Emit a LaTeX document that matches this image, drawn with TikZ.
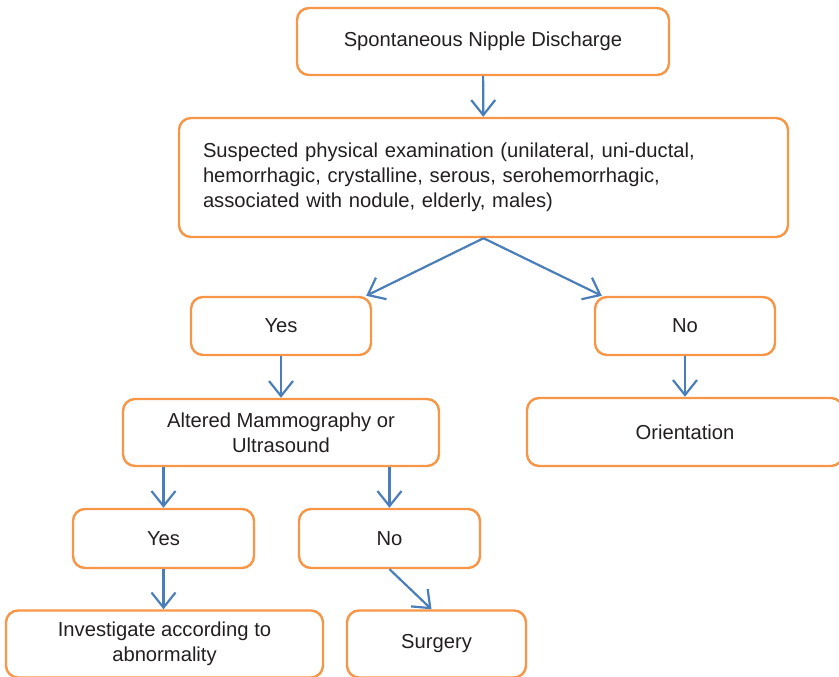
\documentclass[tikz,border=0pt]{standalone}
\usepackage{fontspec}
\setmainfont{Liberation Sans}
\usepackage{tikz}
\usetikzlibrary{arrows.meta,shapes,positioning}
\usepackage{xcolor}
\definecolor{ndorange}{RGB}{247,150,70}
\definecolor{ndblue}{RGB}{74,126,187}
\definecolor{ndtext}{RGB}{35,31,32}
\tikzstyle{stepbox} = [rectangle, rounded corners=12pt, minimum height=58pt, text centered, draw=ndorange, line width=2.4pt, text=ndtext, font=\fontsize{20.2}{25}\selectfont, inner sep=4pt]
\tikzstyle{arrow} = [line width=2.2pt,-{Straight Barb[length=15pt,width=24pt]},color=ndblue]

\begin{document}
\begin{tikzpicture}[x=1pt, y=1pt]
\useasboundingbox (0,0) rectangle (839,-677);

% Start and examination
\node[stepbox, minimum width=372pt, minimum height=67pt] (start) at (483,-41.5) {Spontaneous Nipple Discharge};
\node[stepbox, minimum width=609pt, minimum height=119pt, text width=561pt, align=left] (exam) at (483.5,-177.5) {Suspected physical examination (unilateral, uni-ductal,\\hemorrhagic, crystalline, serous, serohemorrhagic,\\associated with nodule, elderly, males)};

% First answer
\node[stepbox, minimum width=180pt] (yesexam) at (281,-326) {Yes};
\node[stepbox, minimum width=180pt] (noexam) at (685,-326) {No};

% Imaging and follow-up
\node[stepbox, minimum width=316pt, minimum height=67pt, align=center] (imaging) at (281,-432.5) {Altered Mammography or\\Ultrasound};
\node[stepbox, minimum width=316pt, minimum height=68pt] (orient) at (685,-432) {Orientation};

% Second answer
\node[stepbox, minimum width=181pt, minimum height=59pt] (yesimg) at (163.5,-538.5) {Yes};
\node[stepbox, minimum width=181pt, minimum height=59pt] (noimg) at (389.5,-538.5) {No};

% Outcomes
\node[stepbox, minimum width=317pt, minimum height=67pt, align=center] (invest) at (164.5,-644) {Investigate according to\\abnormality};
\node[stepbox, minimum width=179pt, minimum height=67pt] (surgery) at (436.5,-644) {Surgery};

% Connections
\draw[arrow] (start) -- (exam);
\draw[arrow] (exam.south) -- ([xshift=-6pt]yesexam.north east);
\draw[arrow] (exam.south) -- ([xshift=8pt]noexam.north west);
\draw[arrow] (yesexam) -- (imaging);
\draw[arrow] (noexam) -- (orient);
\draw[arrow] (imaging.south -| yesimg) -- (yesimg);
\draw[arrow] (imaging.south -| noimg) -- (noimg);
\draw[arrow] (yesimg) -- (yesimg |- invest.north);
\draw[arrow] (noimg.south) -- ([xshift=-5pt]surgery.north);
\end{tikzpicture}
\end{document}
